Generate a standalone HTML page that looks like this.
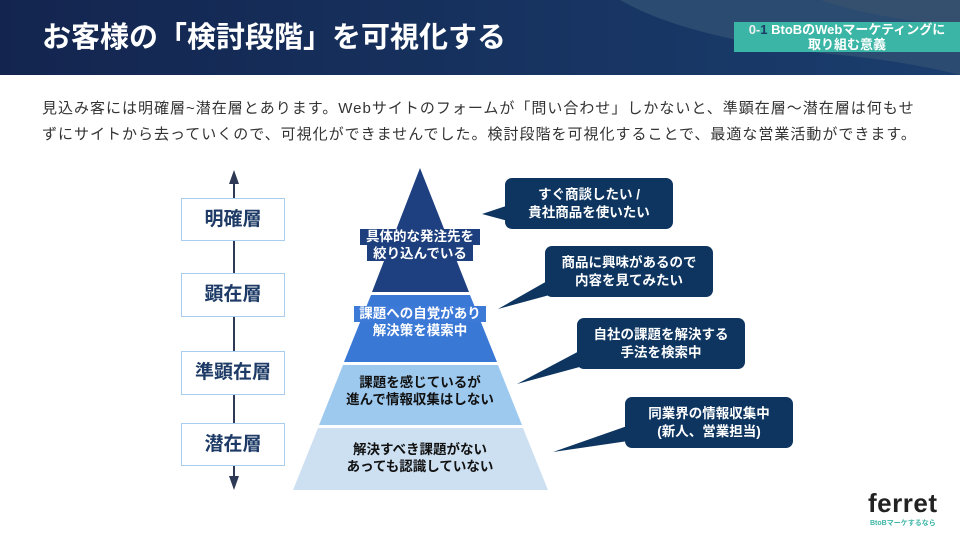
<!DOCTYPE html>
<html><head><meta charset="utf-8"><style>
body{margin:0;width:960px;height:540px;position:relative;overflow:hidden;background:#fff;font-family:"Liberation Sans","Noto Sans CJK JP",sans-serif;}
.a{position:absolute}
.lb{position:absolute;left:181px;width:104px;border:1px solid #a9cdee;background:#fff;color:#1d3b66;font-weight:bold;font-size:19px;text-align:center;box-sizing:border-box}
.co{position:absolute;width:168px;height:51px;background:#0d3560;border-radius:7px;color:#fff;font-weight:bold;font-size:13.5px;line-height:18px;text-align:center;display:flex;align-items:center;justify-content:center}
.pt{position:absolute;font-weight:bold;font-size:13.5px;line-height:17px;text-align:center}
</style></head><body>
<svg class="a" style="left:0;top:0" width="960" height="75">
<defs><linearGradient id="g" x1="0" y1="0" x2="1" y2="0"><stop offset="0" stop-color="#13254f"/><stop offset="1" stop-color="#1a3e6e"/></linearGradient></defs>
<rect width="960" height="75" fill="url(#g)"/>
<path d="M620 0 Q690 40 840 55 Q910 62 960 75 L960 0Z" fill="#2b4b70"/>
<path d="M820 0 Q880 20 960 25 L960 0Z" fill="#34506e"/>
</svg>
<div class="a" style="left:42px;top:19px;color:#fff;font-weight:bold;font-size:29px;line-height:38px">お客様の「検討段階」を可視化する</div>
<div class="a" style="left:734px;top:22px;width:226px;height:30px;background:#3bb5a5;color:#fff;font-weight:bold;font-size:13px;line-height:15px;text-align:center;box-sizing:border-box"><span style="color:#eee">0-</span><span style="color:#1d3b66">1</span> BtoBのWebマーケティングに<br>取り組む意義</div>
<div class="a" style="left:42px;top:96px;width:910px;color:#333;font-size:15px;letter-spacing:1px;line-height:26px;white-space:nowrap">見込み客には明確層~潜在層とあります。Webサイトのフォームが「問い合わせ」しかないと、準顕在層～潜在層は何もせ<br>ずにサイトから去っていくので、可視化ができませんでした。検討段階を可視化することで、最適な営業活動ができます。</div>
<svg class="a" style="left:0;top:0" width="960" height="540">
<line x1="234" y1="180" x2="234" y2="478" stroke="#2e3a55" stroke-width="2"/>
<polygon points="234,170 229,184 239,184" fill="#2e3a55"/>
<polygon points="234,490 229,476 239,476" fill="#2e3a55"/>
<polygon points="420,168 469,292 372,292" fill="#1e3f80"/>
<polygon points="371,295 470,295 497,362 344,362" fill="#3a78d6"/>
<polygon points="343,365 498,365 522,425 319,425" fill="#9ec9ef"/>
<polygon points="318,428 523,428 548,490 293,490" fill="#cde0f2"/>
<polygon points="482,214 512,204 512,222" fill="#0d3560"/>
<polygon points="498,309 556,276 568,290" fill="#0d3560"/>
<polygon points="517,384 585,348 598,362" fill="#0d3560"/>
<polygon points="553,452 630,425 635,440" fill="#0d3560"/>
<rect x="360" y="229" width="120" height="16" fill="#1d3f7e"/>
<rect x="367" y="245" width="106" height="16" fill="#1d3f7e"/>
<rect x="354" y="306" width="132" height="16" fill="#3d7ad8"/>
</svg>
<div class="lb" style="top:198px;height:43px;line-height:41px">明確層</div>
<div class="lb" style="top:273px;height:44px;line-height:42px">顕在層</div>
<div class="lb" style="top:351px;height:44px;line-height:42px">準顕在層</div>
<div class="lb" style="top:423px;height:43px;line-height:41px">潜在層</div>
<div class="pt" style="left:350px;top:228px;width:140px;color:#fff">具体的な発注先を<br>絞り込んでいる</div>
<div class="pt" style="left:345px;top:305px;width:150px;color:#fff">課題への自覚があり<br>解決策を模索中</div>
<div class="pt" style="left:335px;top:374px;width:170px;color:#111">課題を感じているが<br>進んで情報収集はしない</div>
<div class="pt" style="left:325px;top:441px;width:190px;color:#111">解決すべき課題がない<br>あっても認識していない</div>
<div class="co" style="left:505px;top:178px">すぐ商談したい /<br>貴社商品を使いたい</div>
<div class="co" style="left:545px;top:246px">商品に興味があるので<br>内容を見てみたい</div>
<div class="co" style="left:577px;top:318px">自社の課題を解決する<br>手法を検索中</div>
<div class="co" style="left:625px;top:397px">同業界の情報収集中<br>(新人、営業担当)</div>
<div class="a" style="left:868px;top:488px;font-weight:bold;font-size:26px;color:#222;line-height:30px;letter-spacing:0.5px">ferret</div>
<div class="a" style="left:870px;top:518px;font-size:7px;color:#3bb5a5;font-weight:bold">BtoBマーケするなら</div>
</body></html>
